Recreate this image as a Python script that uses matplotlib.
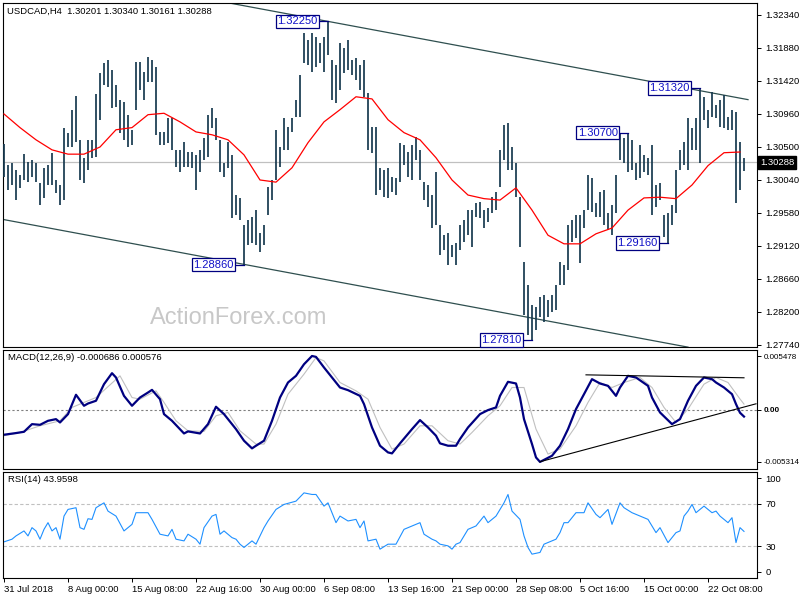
import numpy as np
import matplotlib.pyplot as plt
import matplotlib.transforms as mtransforms

plt.rcParams['font.family'] = ['Liberation Sans', 'DejaVu Sans']

# price bars (high / low), one entry per plotted bar
highs = [1.3054, 1.3025, 1.3028, 1.3018, 1.3011, 1.3040, 1.3029, 1.3032, 1.3028, 1.3000,
         1.3021, 1.3025, 1.3042, 1.3004, 1.2997, 1.3077, 1.3070, 1.3102, 1.3121, 1.3060,
         1.3035, 1.3060, 1.3060, 1.3124, 1.3153, 1.3167, 1.3171, 1.3157, 1.3137, 1.3116,
         1.3113, 1.3095, 1.3074, 1.3169, 1.3169, 1.3155, 1.3176, 1.3171, 1.3162, 1.3071,
         1.3071, 1.3091, 1.3091, 1.3046, 1.3046, 1.3057, 1.3043, 1.3043, 1.3039, 1.3046,
         1.3063, 1.3095, 1.3104, 1.3091, 1.3060, 1.3028, 1.3057, 1.3039, 1.2983, 1.2979,
         1.2941, 1.2948, 1.2952, 1.2962, 1.2930, 1.2941, 1.2994, 1.3004, 1.3074, 1.3050,
         1.3091, 1.3078, 1.3091, 1.3116, 1.3150, 1.3209, 1.3199, 1.3209, 1.3203, 1.3195,
         1.3203, 1.3225, 1.3171, 1.3164, 1.3195, 1.3188, 1.3199, 1.3171, 1.3174, 1.3164,
         1.3171, 1.3125, 1.3078, 1.3078, 1.3021, 1.3018, 1.3021, 1.3008, 1.3007, 1.3056,
         1.3053, 1.3043, 1.3053, 1.3064, 1.3046, 1.3001, 1.2997, 1.2983, 1.3015, 1.2941,
         1.2927, 1.2930, 1.2913, 1.2916, 1.2941, 1.2948, 1.2962, 1.2962, 1.2972, 1.2973,
         1.2962, 1.2965, 1.2980, 1.2987, 1.3046, 1.3081, 1.3083, 1.3050, 1.3028, 1.2980,
         1.2890, 1.2858, 1.2830, 1.2827, 1.2841, 1.2844, 1.2837, 1.2844, 1.2858, 1.2890,
         1.2886, 1.2941, 1.2948, 1.2955, 1.2955, 1.2962, 1.3011, 1.3007, 1.2972, 1.2987,
         1.2990, 1.2958, 1.2969, 1.3011, 1.3070, 1.3063, 1.3070, 1.3060, 1.3028, 1.3053,
         1.3039, 1.3035, 1.3053, 1.2997, 1.3000, 1.2955, 1.2958, 1.2969, 1.3018, 1.3046,
         1.3057, 1.3091, 1.3077, 1.3091, 1.3132, 1.3120, 1.3102, 1.3127, 1.3109, 1.3116,
         1.3123, 1.3092, 1.3102, 1.3099, 1.3057, 1.3034]
lows = [1.3008, 1.2990, 1.2997, 1.2976, 1.2993, 1.3004, 1.3001, 1.3008, 1.3001, 1.2969,
        1.2979, 1.2997, 1.2997, 1.2986, 1.2969, 1.2976, 1.3050, 1.3050, 1.3057, 1.3004,
        1.3000, 1.3018, 1.3035, 1.3036, 1.3088, 1.3137, 1.3134, 1.3104, 1.3106, 1.3070,
        1.3060, 1.3050, 1.3053, 1.3102, 1.3130, 1.3116, 1.3141, 1.3141, 1.3067, 1.3053,
        1.3053, 1.3056, 1.3046, 1.3022, 1.3015, 1.3022, 1.3022, 1.3021, 1.2990, 1.3015,
        1.3032, 1.3036, 1.3077, 1.3060, 1.3015, 1.3008, 1.3021, 1.2951, 1.2955, 1.2948,
        1.2886, 1.2913, 1.2916, 1.2913, 1.2904, 1.2913, 1.2955, 1.2976, 1.3004, 1.3022,
        1.3046, 1.3046, 1.3071, 1.3092, 1.3092, 1.3167, 1.3164, 1.3155, 1.3162, 1.3167,
        1.3155, 1.3178, 1.3116, 1.3111, 1.3130, 1.3153, 1.3157, 1.3150, 1.3143, 1.3130,
        1.3120, 1.3046, 1.3042, 1.2983, 1.2990, 1.2980, 1.2979, 1.2987, 1.2983, 1.3001,
        1.3025, 1.3008, 1.3004, 1.3032, 1.3004, 1.2976, 1.2966, 1.2937, 1.2941, 1.2900,
        1.2906, 1.2886, 1.2897, 1.2886, 1.2906, 1.2918, 1.2927, 1.2911, 1.2953, 1.2951,
        1.2937, 1.2946, 1.2958, 1.2962, 1.2994, 1.3032, 1.3018, 1.3018, 1.2980, 1.2911,
        1.2816, 1.2788, 1.2781, 1.2795, 1.2813, 1.2806, 1.2813, 1.2820, 1.2823, 1.2858,
        1.2858, 1.2879, 1.2918, 1.2923, 1.2888, 1.2937, 1.2962, 1.2959, 1.2953, 1.2953,
        1.2941, 1.2934, 1.2927, 1.2958, 1.3032, 1.3028, 1.3015, 1.3018, 1.3004, 1.3007,
        1.3015, 1.3011, 1.2955, 1.2966, 1.2976, 1.2925, 1.2916, 1.2941, 1.2958, 1.3018,
        1.3025, 1.3018, 1.3046, 1.3046, 1.3028, 1.3088, 1.3077, 1.3092, 1.3091, 1.3078,
        1.3077, 1.3074, 1.3074, 1.2972, 1.2990, 1.3016]
last_price = 1.30288

# moving average (red), one reading every 4 bars
ma_step = 4
ma = [1.3096, 1.3077, 1.3060, 1.3046, 1.3040, 1.3040, 1.3050, 1.3074, 1.3077, 1.3095,
      1.3097, 1.3085, 1.3071, 1.3067, 1.3060, 1.3039, 1.3004, 1.3001, 1.3021, 1.3056,
      1.3085, 1.3102, 1.3120, 1.3117, 1.3088, 1.3070, 1.3060, 1.3035, 1.3004, 1.2983,
      1.2978, 1.2976, 1.2993, 1.2962, 1.2927, 1.2915, 1.2915, 1.2929, 1.2937, 1.2962,
      1.2979, 1.2980, 1.2978, 1.2997, 1.3024, 1.3042, 1.3043]

# channel lines (bar, price)
upper_bar = [57, 186]
upper_price = [1.3250, 1.3116]
lower_bar = [-0.25, 171]
lower_price = [1.2949, 1.2771]

# marked highs / lows
mark_bar = [81, 174, 156, 60, 132, 166]
mark_price = [1.3225, 1.3132, 1.3070, 1.2886, 1.2781, 1.2916]

price_ticks = [1.32340, 1.31880, 1.31420, 1.30960, 1.30500, 1.30040,
               1.29580, 1.29120, 1.28660, 1.28200, 1.27740]

# MACD(12,26,9)
macd_bar = [0, 3, 5, 7, 9, 11, 13, 14, 16, 18, 20, 21, 23, 25, 27, 28, 30, 32, 34, 36,
            37, 39, 40, 42, 45, 46, 49, 51, 53, 55, 58, 60, 62, 63, 65, 67, 69, 71, 73, 75,
            77, 78, 80, 82, 84, 86, 89, 90, 92, 94, 96, 97, 99, 102, 104, 106, 108, 109, 111, 113,
            114, 116, 119, 121, 123, 124, 126, 128, 129, 130, 132, 133, 134, 137, 139, 141, 143, 145, 147, 149,
            151, 153, 154, 156, 158, 161, 162, 164, 167, 169, 171, 173, 175, 177, 178, 180, 182, 183, 184, 185]
macd_main = [-0.00254, -0.00237, -0.00224, -0.00146, -0.00153, -0.00112, -0.00095, -0.00129, -0.00044, 0.00153,
             0.00041, 0.00064, 0.00092, 0.00261, 0.00373, 0.00329, 0.00142, 0.00041, 0.00125, 0.00176,
             0.00203, 0.00108, -0.00044, -0.00112, -0.00241, -0.00220, -0.00241, -0.00146, 0.00031, -0.00044,
             -0.00197, -0.00315, -0.00393, -0.00366, -0.00315, -0.00112, 0.00125, 0.00278, 0.00346, 0.00464,
             0.00548, 0.00539, 0.00431, 0.00329, 0.00227, 0.00200, 0.00142, 0.00058, -0.00180, -0.00366,
             -0.00434, -0.00444, -0.00342, -0.00197, -0.00105, -0.00180, -0.00264, -0.00342, -0.00366, -0.00366,
             -0.00298, -0.00180, -0.00044, -0.00003, 0.00024, 0.00142, 0.00285, 0.00268, 0.00125, -0.00095,
             -0.00349, -0.00485, -0.00531, -0.00468, -0.00366, -0.00197, 0.00007, 0.00159, 0.00312, 0.00268,
             0.00244, 0.00142, 0.00227, 0.00346, 0.00329, 0.00244, 0.00125, -0.00027, -0.00146, -0.00095,
             0.00092, 0.00244, 0.00329, 0.00312, 0.00278, 0.00227, 0.00159, 0.00058, -0.00030, -0.00069]
sig_bar = [0, 4, 9, 14, 17, 20, 23, 29, 32, 34, 38, 40, 43, 46, 50, 53, 56, 59, 63, 65,
           68, 71, 75, 78, 80, 84, 88, 91, 94, 97, 100, 104, 107, 111, 114, 117, 121, 124, 127, 130,
           133, 136, 139, 143, 146, 149, 152, 155, 159, 162, 165, 168, 171, 175, 178, 181, 184, 185]
macd_sig = [-0.00264, -0.00231, -0.00163, -0.00112, 0.00024, 0.00075, 0.00125, 0.00346, 0.00125, 0.00108,
            0.00193, 0.00075, -0.00112, -0.00214, -0.00220, -0.00061, -0.00027, -0.00214, -0.00349, -0.00349,
            -0.00146, 0.00159, 0.00363, 0.00532, 0.00498, 0.00278, 0.00193, 0.00108, -0.00180, -0.00400,
            -0.00349, -0.00163, -0.00163, -0.00315, -0.00349, -0.00231, -0.00061, 0.00041, 0.00227, 0.00227,
            -0.00197, -0.00451, -0.00400, -0.00163, 0.00075, 0.00278, 0.00227, 0.00278, 0.00329, 0.00227,
            0.00024, -0.00129, 0.00007, 0.00261, 0.00329, 0.00278, 0.00110, 0.00058]
macd_top_bar = [145.5, 185]
macd_top_val = [0.00356, 0.00326]
macd_low_bar = [134, 188]
macd_low_val = [-0.00529, 0.00061]

# RSI(14)
rsi_bar = [0, 2, 3, 5, 6, 7, 8, 9, 10, 11, 12, 13, 14, 15, 16, 18, 19, 20, 21, 22,
           23, 25, 26, 28, 30, 32, 33, 36, 37, 39, 41, 42, 43, 45, 46, 48, 49, 50, 52, 53,
           54, 55, 57, 58, 59, 60, 62, 63, 64, 65, 66, 68, 70, 73, 75, 77, 78, 80, 81, 83,
           84, 86, 88, 89, 90, 91, 93, 94, 96, 98, 100, 101, 104, 105, 107, 108, 109, 111, 112, 113,
           114, 116, 118, 120, 121, 122, 123, 125, 126, 127, 129, 130, 131, 132, 134, 135, 137, 138, 139, 140,
           141, 143, 145, 146, 148, 149, 151, 152, 154, 155, 157, 159, 161, 163, 164, 166, 168, 169, 170, 171,
           172, 173, 175, 177, 178, 179, 181, 182, 183, 184, 185]
rsi_val = [34.1, 36.6, 39.7, 44.4, 39.7, 47.5, 44.4, 36.6, 45.9, 52.2, 44.4, 47.5, 36.6, 58.4, 64.7, 66.3, 47.5, 45.9, 55.9, 55.3,
           66.3, 70.9, 63.1, 58.4, 44.4, 50.6, 61.6, 61.6, 55.3, 41.3, 39.7, 45.9, 36.6, 35.0, 41.3, 36.6, 31.9, 47.5, 58.4, 60.0,
           41.3, 44.4, 38.1, 36.6, 31.9, 28.8, 35.0, 31.9, 39.7, 47.5, 53.8, 64.7, 69.4, 72.5, 80.3, 78.8, 78.8, 67.8, 70.9, 52.2,
           58.4, 53.8, 55.3, 47.5, 53.8, 35.0, 36.6, 27.2, 31.9, 31.9, 45.9, 47.5, 52.2, 41.3, 36.6, 35.0, 31.9, 30.3, 27.2, 31.9,
           33.4, 45.9, 49.1, 58.4, 52.2, 55.3, 58.4, 70.9, 78.8, 63.1, 55.3, 39.7, 28.8, 22.5, 24.1, 31.9, 35.0, 36.6, 42.8, 52.2,
           52.2, 61.6, 61.6, 70.9, 60.0, 56.9, 64.7, 50.6, 70.9, 66.3, 61.6, 58.4, 55.3, 42.8, 47.5, 33.4, 42.8, 44.4, 58.4, 63.1,
           69.4, 61.6, 67.8, 61.6, 63.1, 58.4, 52.2, 56.9, 33.4, 47.5, 43.96]

date_bar = [0, 16, 32, 48, 64, 80, 96, 112, 128, 144, 160, 176]
date_labels = ['31 Jul 2018', '8 Aug 00:00', '15 Aug 08:00', '22 Aug 16:00', '30 Aug 00:00',
               '6 Sep 08:00', '13 Sep 16:00', '21 Sep 00:00', '28 Sep 08:00', '5 Oct 16:00',
               '15 Oct 00:00', '22 Oct 08:00']

bar_color = '#17394f'
fs = 6.8

fig = plt.figure(figsize=(8, 6), dpi=100)
ax = fig.add_axes([0.00375, 0.42167, 0.9425, 0.57333])
ax2 = fig.add_axes([0.00375, 0.21833, 0.9425, 0.19833])
ax3 = fig.add_axes([0.00375, 0.03667, 0.9425, 0.17667])

bars = np.arange(len(highs))
for a in (ax, ax2, ax3):
    a.set_xlim(-0.25, 188.25)
    for s in a.spines.values():
        s.set_linewidth(0.8)
        s.set_color('black')
    a.yaxis.tick_right()
    a.tick_params(axis='y', direction='out', length=3, labelsize=fs, pad=3, width=0.7)

# main price panel
ax.axhline(last_price, color='#c0c0c0', lw=0.9, zorder=1)
ax.vlines(bars, lows, highs, color=bar_color, lw=1.25, zorder=3)
ax.plot(np.arange(len(ma)) * ma_step, ma, color='red', lw=0.9, zorder=4)
ax.plot(upper_bar, upper_price, color='#2f4f4f', lw=0.9, zorder=2)
ax.plot(lower_bar, lower_price, color='#2f4f4f', lw=0.9, zorder=2)
ax.set_ylim(1.27712, 1.32507)
ax.set_yticks(price_ticks)
ax.set_yticklabels(['%.5f' % p for p in price_ticks])
ax.set_xticks([])

for b, p in zip(mark_bar, mark_price):
    ax.plot([b - 2.6, b], [p, p], color='#000080', lw=0.9, zorder=5)
    ax.text(b - 2.6, p, '%.5f' % p, ha='right', va='center', fontsize=8, color='#1010c8',
            zorder=6, bbox=dict(boxstyle='square,pad=0.15', fc='white', ec='#000080', lw=0.9))

trans = mtransforms.blended_transform_factory(ax.transAxes, ax.transData)
ax.text(1.004, last_price, '%.5f' % last_price, transform=trans, ha='left', va='center',
        fontsize=fs, color='white', clip_on=False,
        bbox=dict(boxstyle='square,pad=0.2', fc='black', ec='black'))

ax.text(0.312, 0.084, 'ActionForex.com', transform=ax.transAxes, ha='center', va='center',
        fontsize=17, color='#c8c8c8', zorder=0)
ax.text(0.0053, 0.977, 'USDCAD,H4  1.30201 1.30340 1.30161 1.30288', transform=ax.transAxes,
        ha='left', va='center', fontsize=fs)

# MACD panel
ax2.axhline(0, color='#808080', lw=0.8, ls=(0, (2, 2)))
ax2.plot(sig_bar, macd_sig, color='#c0c0c0', lw=0.8)
ax2.plot(macd_bar, macd_main, color='#000080', lw=1.6)
ax2.plot(macd_top_bar, macd_top_val, color='black', lw=0.8)
ax2.plot(macd_low_bar, macd_low_val, color='black', lw=0.8)
ax2.set_ylim(-0.00603, 0.00609)
ax2.set_yticks([0.005478, 0.0, -0.005314])
ax2.set_yticklabels(['0.005478', '0.00', '-0.005314'])
ax2.tick_params(axis='y', labelsize=5.8, pad=1.5)
ax2.get_yticklabels()[1].set_fontweight('bold')
ax2.set_xticks([])
ax2.text(0.0066, 0.94, 'MACD(12,26,9) -0.000686 0.000576', transform=ax2.transAxes,
         ha='left', va='center', fontsize=fs)

# RSI panel
ax3.axhline(70, color='#c0c0c0', lw=0.8, ls=(0, (3, 2)))
ax3.axhline(30, color='#c0c0c0', lw=0.8, ls=(0, (3, 2)))
ax3.plot(rsi_bar, rsi_val, color='#1e90ff', lw=0.8)
ax3.set_ylim(0, 100)
ax3.set_yticks([94, 70, 30, 6])
ax3.set_yticklabels(['100', '70', '30', '0'])
ax3.text(0.0066, 0.925, 'RSI(14) 43.9598', transform=ax3.transAxes,
         ha='left', va='center', fontsize=fs)
ax3.set_xticks(date_bar)
ax3.set_xticklabels(date_labels, fontsize=fs, ha='left')
ax3.tick_params(axis='x', direction='out', length=3, pad=2, width=0.7)

fig.savefig('out.png', dpi=100, facecolor='white')
